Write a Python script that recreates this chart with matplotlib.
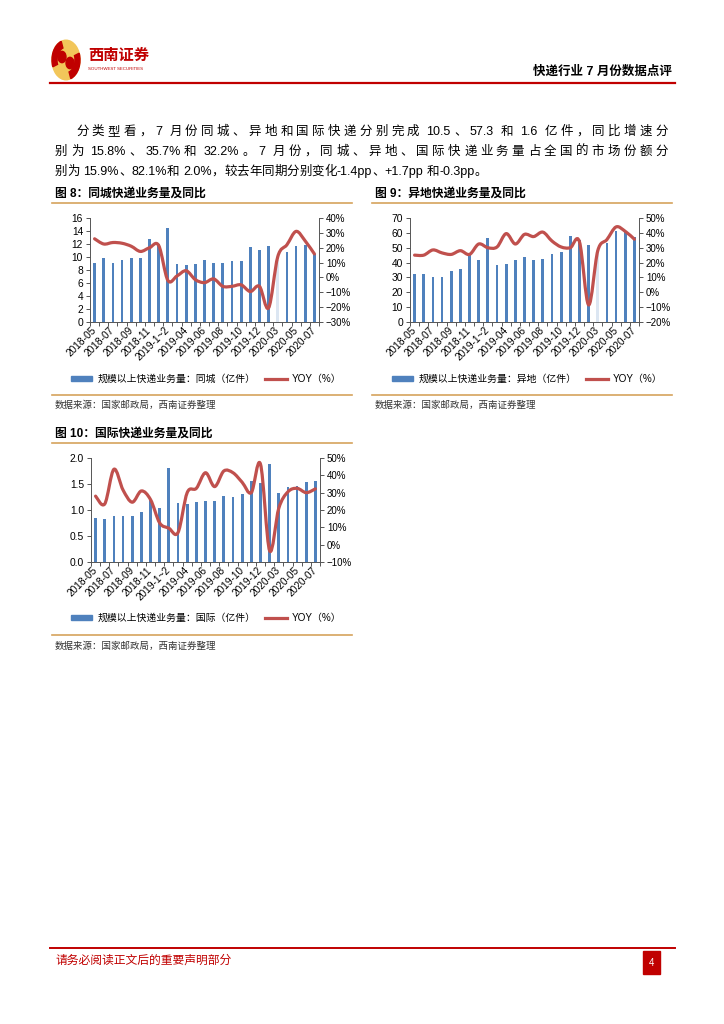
import numpy as np
import matplotlib
matplotlib.use("Agg")
import matplotlib.pyplot as plt
from matplotlib.patches import Rectangle, Circle, Wedge, PathPatch
from matplotlib.lines import Line2D
from matplotlib.path import Path
from matplotlib.ticker import FuncFormatter

plt.rcParams['font.family'] = ['Liberation Sans', 'Noto Sans CJK SC']

# categories (Jan+Feb reported together)
months = ['2018-05', '2018-06', '2018-07', '2018-08', '2018-09', '2018-10',
          '2018-11', '2018-12', '2019-1~2', '2019-03', '2019-04', '2019-05',
          '2019-06', '2019-07', '2019-08', '2019-09', '2019-10', '2019-11',
          '2019-12', '2020-1~2', '2020-03', '2020-04', '2020-05', '2020-06',
          '2020-07']

# 同城 (亿件) / YOY %
local_vol = [9.1, 9.8, 9.1, 9.6, 9.9, 9.9, 12.8, 12.0, 14.5, 9.0, 8.8, 9.0,
             9.5, 9.1, 9.1, 9.4, 9.4, 11.6, 11.1, 11.7, 9.6, 10.8, 11.7, 11.8,
             10.5]
local_yoy = [26.0, 22.5, 23.5, 23.0, 21.0, 17.5, 20.0, 21.5, -2.0, 1.0, 4.5,
             -1.5, -3.5, -1.0, -6.0, -6.0, -5.0, -9.5, -6.0, -20.5, 14.0, 22.0,
             31.0, 24.5, 15.8]

# 异地 (亿件) / YOY %
remote_vol = [32.0, 32.0, 30.5, 30.5, 34.0, 36.0, 45.5, 41.5, 56.5, 38.5,
              39.3, 42.0, 44.0, 42.0, 42.5, 45.5, 47.0, 58.0, 55.0, 52.0, 48.6,
              53.0, 61.0, 61.5, 57.3]
remote_yoy = [25.0, 25.0, 28.5, 26.5, 25.5, 28.0, 25.5, 32.5, 30.0, 30.5,
              39.5, 32.5, 39.0, 37.5, 40.5, 34.5, 30.5, 30.0, 34.0, -8.5, 28.0,
              35.5, 44.0, 41.0, 35.7]

# 国际 (亿件) / YOY %
intl_vol = [0.85, 0.83, 0.88, 0.88, 0.88, 0.96, 1.20, 1.04, 1.80, 1.13, 1.12,
            1.15, 1.18, 1.18, 1.26, 1.25, 1.30, 1.56, 1.52, 1.89, 1.32, 1.44,
            1.47, 1.53, 1.56]
intl_yoy = [28.0, 23.5, 43.5, 31.5, 24.5, 31.0, 26.0, 12.5, 9.5, 7.0, 30.0,
            32.5, 41.5, 33.5, 42.5, 41.5, 36.0, 30.0, 46.5, -3.5, 21.0, 30.5,
            32.5, 30.0, 32.2]

body_lines = [
    '分类型看，7 月份同城、异地和国际快递分别完成 10.5、57.3 和 1.6 亿件，同比增速分',
    '别为 15.8%、35.7%和 32.2%。7 月份，同城、异地、国际快递业务量占全国的市场份额分',
    '别为 15.9%、82.1%和 2.0%，较去年同期分别变化-1.4pp、+1.7pp 和-0.3pp。',
]

BLUE = '#4f81bd'
PALE = '#dce6f2'
RED = '#c0504d'
GOLD = '#d6a35c'
DARKRED = '#c00000'

W, H = 724, 1024
fig = plt.figure(figsize=(W / 100, H / 100), dpi=100)


def fx(x):
    return x / W


def fy(y):
    return 1 - y / H


def box(x0, y0, x1, y1):
    return [x0 / W, 1 - y1 / H, (x1 - x0) / W, (y1 - y0) / H]


def hline(x0, x1, y, color, lw):
    fig.add_artist(Line2D([fx(x0), fx(x1)], [fy(y), fy(y)], color=color, lw=lw))


def smooth_path(x, y):
    # smooth line through the points (cubic bezier, like the excel smoothed line)
    pts = np.column_stack([x, y]).astype(float)
    n = len(pts)
    verts = [pts[0]]
    codes = [Path.MOVETO]
    for i in range(n - 1):
        p0 = pts[i - 1] if i > 0 else pts[i]
        p1, p2 = pts[i], pts[i + 1]
        p3 = pts[i + 2] if i + 2 < n else pts[i + 1]
        verts += [p1 + (p2 - p0) / 6, p2 - (p3 - p1) / 6, p2]
        codes += [Path.CURVE4] * 3
    return Path(verts, codes)


def pct(v, pos):
    return f'{v:.0f}%'.replace('-', '\u2212')


def draw_chart(rect, vol, yoy, ylim, ystep, rlim, name, legend_x, legend_y,
               fmt, pale=None):
    ax = fig.add_axes(box(*rect))
    x = np.arange(len(months))
    colors = [BLUE] * len(months)
    if pale is not None:
        colors[pale] = PALE
    ax.bar(x, vol, width=0.3, color=colors, zorder=2)
    ax.set_xlim(-0.5, len(months) - 0.5)
    ax.set_ylim(*ylim)
    ax.set_yticks(np.arange(ylim[0], ylim[1] + ystep / 2, ystep))
    ax.yaxis.set_major_formatter(FuncFormatter(lambda v, p: fmt.format(v)))
    ax.set_xticks(np.arange(-0.5, len(months), 1))
    ax.set_xticklabels([])
    ax.set_xticks(x[::2], minor=True)
    ax.set_xticklabels(months[::2], minor=True, rotation=45, ha='right',
                       va='center', rotation_mode='anchor', fontsize=7.3)
    ax.tick_params(axis='x', which='major', length=3, width=0.7, color='#555555')
    ax.tick_params(axis='x', which='minor', length=0, pad=5)
    ax.tick_params(axis='y', length=3, width=0.7, color='#555555', labelsize=7.4,
                   pad=2)
    for s in ['top', 'right']:
        ax.spines[s].set_visible(False)
    for s in ['left', 'bottom']:
        ax.spines[s].set_color('#555555')
        ax.spines[s].set_linewidth(0.7)

    ax2 = ax.twinx()
    ax2.set_ylim(*rlim)
    ax2.set_yticks(np.arange(rlim[0], rlim[1] + 1, 10))
    ax2.yaxis.set_major_formatter(FuncFormatter(pct))
    ax2.tick_params(axis='y', length=3, width=0.7, color='#555555', labelsize=7,
                    pad=2)
    for s in ['top', 'left', 'bottom']:
        ax2.spines[s].set_visible(False)
    ax2.spines['right'].set_color('#555555')
    ax2.spines['right'].set_linewidth(0.7)
    ax2.add_patch(PathPatch(smooth_path(x, yoy), fc='none', ec=RED, lw=2.3,
                            capstyle='round', joinstyle='round', zorder=3))

    handles = [Rectangle((0, 0), 1, 1, color=BLUE),
               Line2D([], [], color=RED, lw=2.3)]
    fig.legend(handles, ['规模以上快递业务量：' + name + '（亿件）', 'YOY（%）'],
               loc='center', bbox_to_anchor=(fx(legend_x), fy(legend_y)),
               ncol=2, frameon=False, fontsize=7.1, handlelength=2.2,
               handleheight=0.5, columnspacing=1.0, handletextpad=0.5)


def tokens(s):
    # every CJK sign is its own token, runs of ascii stay together
    out = []
    for ch in s:
        if ord(ch) < 128 and out and all(ord(c) < 128 for c in out[-1]):
            out[-1] += ch
        else:
            out.append(ch)
    return out


def put_line(s, x0, y, x1=None, size=9):
    r = fig.canvas.get_renderer()
    parts = tokens(s)
    texts, widths = [], []
    for p in parts:
        t = fig.text(0, fy(y), p.strip(), fontsize=size, va='center', ha='left')
        texts.append(t)
        w = t.get_window_extent(r).width if p.strip() else 0.0
        # keep the spaces around ascii runs
        nsp = len(p) - len(p.lstrip())
        w += (len(p) - len(p.strip())) * size * 100 / 72 * 0.28
        widths.append((w, nsp * size * 100 / 72 * 0.28))
    gap = 0.0
    if x1 is not None:
        gap = (x1 - x0 - sum(w for w, _ in widths)) / (len(parts) - 1)
    xpos = x0
    for t, (w, lead) in zip(texts, widths):
        t.set_x(fx(xpos + lead))
        xpos += w + gap


# ---- header ----
fig.add_artist(Circle((fx(66), fy(60)), 14 / W, transform=fig.transFigure,
                      color='#f2c65a', zorder=1))
fig.add_artist(Wedge((fx(66), fy(60)), 14 / W, 110, 200, width=5 / W,
                     transform=fig.transFigure, color=DARKRED, zorder=2))
fig.add_artist(Wedge((fx(66), fy(60)), 14 / W, 290, 20, width=5 / W,
                     transform=fig.transFigure, color=DARKRED, zorder=2))
fig.add_artist(Circle((fx(62), fy(57)), 4 / W, transform=fig.transFigure,
                      color=DARKRED, zorder=2))
fig.add_artist(Circle((fx(70), fy(63)), 4 / W, transform=fig.transFigure,
                      color=DARKRED, zorder=2))
fig.text(fx(88), fy(56), '西南证券', fontsize=11, fontweight='bold',
         color=DARKRED, va='center')
fig.text(fx(88), fy(69), 'SOUTHWEST SECURITIES', fontsize=3.2, color=DARKRED,
         va='center')
fig.text(fx(672), fy(72), '快递行业 7 月份数据点评', fontsize=9, fontweight='bold',
         ha='right', va='center')
hline(50, 675, 83, DARKRED, 1.6)

# ---- body text ----
put_line(body_lines[0], 76, 132, 668)
put_line(body_lines[1], 55, 152, 668)
put_line(body_lines[2], 55, 172)

# ---- figure captions and separators ----
fig.text(fx(55), fy(194), '图 8：同城快递业务量及同比', fontsize=8.5,
         fontweight='bold', va='center')
fig.text(fx(375), fy(194), '图 9：异地快递业务量及同比', fontsize=8.5,
         fontweight='bold', va='center')
hline(52, 352, 203, GOLD, 1.2)
hline(372, 672, 203, GOLD, 1.2)

draw_chart((90, 218, 319, 322), local_vol, local_yoy, (0, 16), 2, (-30, 40),
           '同城', 206, 379, '{:.0f}', pale=20)
draw_chart((410, 218, 639, 322), remote_vol, remote_yoy, (0, 70), 10, (-20, 50),
           '异地', 527, 379, '{:.0f}', pale=20)

hline(52, 352, 395, GOLD, 1.2)
hline(372, 672, 395, GOLD, 1.2)
fig.text(fx(55), fy(405), '数据来源：国家邮政局，西南证券整理', fontsize=6.8,
         color='#333333', va='center', style='italic')
fig.text(fx(375), fy(405), '数据来源：国家邮政局，西南证券整理', fontsize=6.8,
         color='#333333', va='center', style='italic')

fig.text(fx(55), fy(434), '图 10：国际快递业务量及同比', fontsize=8.5,
         fontweight='bold', va='center')
hline(52, 352, 443, GOLD, 1.2)

draw_chart((91, 458, 320, 562), intl_vol, intl_yoy, (0, 2.0), 0.5, (-10, 50),
           '国际', 206, 618, '{:.1f}')

hline(52, 352, 635, GOLD, 1.2)
fig.text(fx(55), fy(646), '数据来源：国家邮政局，西南证券整理', fontsize=6.8,
         color='#333333', va='center', style='italic')

# ---- footer ----
hline(50, 675, 948, DARKRED, 1.4)
fig.text(fx(55), fy(961), '请务必阅读正文后的重要声明部分', fontsize=8.5,
         color=DARKRED, va='center')
fig.add_artist(Rectangle((fx(643), fy(974)), 17 / W, 23 / H,
                         transform=fig.transFigure, color=DARKRED))
fig.text(fx(651.5), fy(962.5), '4', fontsize=7, color='white', ha='center',
         va='center')

fig.savefig('out.png', dpi=100)
